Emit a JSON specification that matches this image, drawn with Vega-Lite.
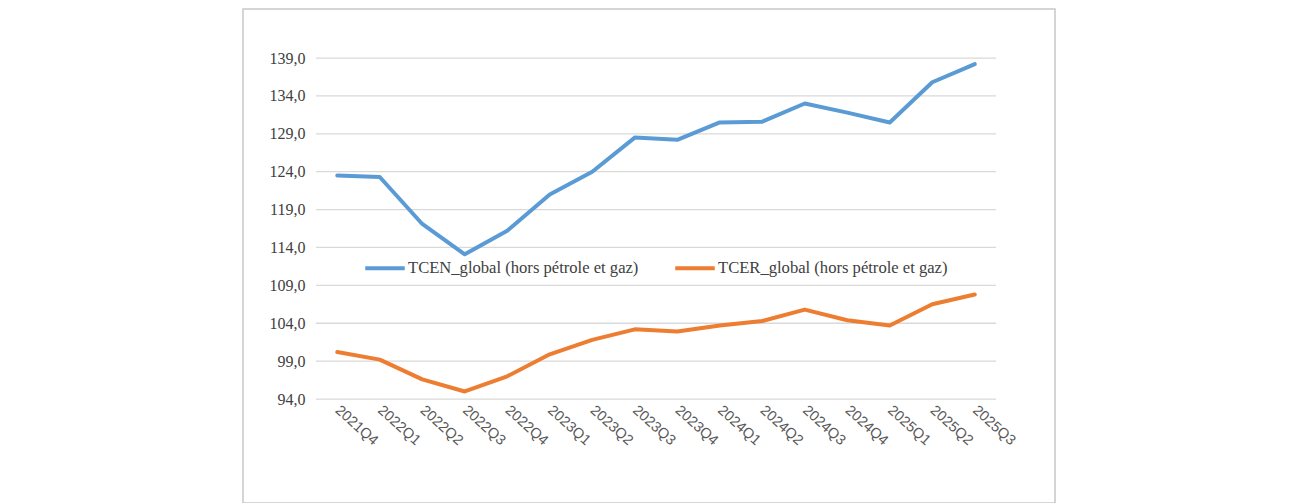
{
  "$schema": "https://vega.github.io/schema/vega-lite/v6.json",
  "autosize": {"type": "none"},
  "padding": {"left": 243, "top": 9, "right": 235, "bottom": 0},
  "width": 812,
  "height": 494,
  "background": "white",
  "config": {
    "view": {"stroke": "#c8c8c8", "strokeWidth": 1.5, "fill": "white"}
  },
  "datasets": {
    "series": [
      {"q": "2021Q4", "serie": "TCEN_global (hors pétrole et gaz)", "val": 123.5},
      {"q": "2022Q1", "serie": "TCEN_global (hors pétrole et gaz)", "val": 123.3},
      {"q": "2022Q2", "serie": "TCEN_global (hors pétrole et gaz)", "val": 117.1},
      {"q": "2022Q3", "serie": "TCEN_global (hors pétrole et gaz)", "val": 113.1},
      {"q": "2022Q4", "serie": "TCEN_global (hors pétrole et gaz)", "val": 116.2},
      {"q": "2023Q1", "serie": "TCEN_global (hors pétrole et gaz)", "val": 121.0},
      {"q": "2023Q2", "serie": "TCEN_global (hors pétrole et gaz)", "val": 124.0},
      {"q": "2023Q3", "serie": "TCEN_global (hors pétrole et gaz)", "val": 128.5},
      {"q": "2023Q4", "serie": "TCEN_global (hors pétrole et gaz)", "val": 128.2},
      {"q": "2024Q1", "serie": "TCEN_global (hors pétrole et gaz)", "val": 130.5},
      {"q": "2024Q2", "serie": "TCEN_global (hors pétrole et gaz)", "val": 130.6},
      {"q": "2024Q3", "serie": "TCEN_global (hors pétrole et gaz)", "val": 133.0},
      {"q": "2024Q4", "serie": "TCEN_global (hors pétrole et gaz)", "val": 131.8},
      {"q": "2025Q1", "serie": "TCEN_global (hors pétrole et gaz)", "val": 130.5},
      {"q": "2025Q2", "serie": "TCEN_global (hors pétrole et gaz)", "val": 135.8},
      {"q": "2025Q3", "serie": "TCEN_global (hors pétrole et gaz)", "val": 138.2},
      {"q": "2021Q4", "serie": "TCER_global (hors pétrole et gaz)", "val": 100.2},
      {"q": "2022Q1", "serie": "TCER_global (hors pétrole et gaz)", "val": 99.2},
      {"q": "2022Q2", "serie": "TCER_global (hors pétrole et gaz)", "val": 96.6},
      {"q": "2022Q3", "serie": "TCER_global (hors pétrole et gaz)", "val": 95.0},
      {"q": "2022Q4", "serie": "TCER_global (hors pétrole et gaz)", "val": 97.0},
      {"q": "2023Q1", "serie": "TCER_global (hors pétrole et gaz)", "val": 99.9},
      {"q": "2023Q2", "serie": "TCER_global (hors pétrole et gaz)", "val": 101.8},
      {"q": "2023Q3", "serie": "TCER_global (hors pétrole et gaz)", "val": 103.2},
      {"q": "2023Q4", "serie": "TCER_global (hors pétrole et gaz)", "val": 102.9},
      {"q": "2024Q1", "serie": "TCER_global (hors pétrole et gaz)", "val": 103.7},
      {"q": "2024Q2", "serie": "TCER_global (hors pétrole et gaz)", "val": 104.3},
      {"q": "2024Q3", "serie": "TCER_global (hors pétrole et gaz)", "val": 105.8},
      {"q": "2024Q4", "serie": "TCER_global (hors pétrole et gaz)", "val": 104.4},
      {"q": "2025Q1", "serie": "TCER_global (hors pétrole et gaz)", "val": 103.7},
      {"q": "2025Q2", "serie": "TCER_global (hors pétrole et gaz)", "val": 106.5},
      {"q": "2025Q3", "serie": "TCER_global (hors pétrole et gaz)", "val": 107.8}
    ],
    "grid": [
      {"v": 94}, {"v": 99}, {"v": 104}, {"v": 109}, {"v": 114},
      {"v": 119}, {"v": 124}, {"v": 129}, {"v": 134}, {"v": 139}
    ]
  },
  "layer": [
    {
      "data": {"name": "grid"},
      "mark": {"type": "rule", "color": "#d9d9d9", "strokeWidth": 1.3},
      "encoding": {
        "x": {"datum": "2021Q4", "type": "nominal", "bandPosition": 0.0001},
        "x2": {"datum": "2025Q3", "bandPosition": 1},
        "y": {"field": "v", "type": "quantitative"}
      }
    },
    {
      "data": {"name": "series"},
      "mark": {"type": "line", "strokeWidth": 4, "strokeCap": "round", "strokeJoin": "round"},
      "encoding": {
        "x": {
          "field": "q",
          "type": "nominal",
          "sort": null,
          "scale": {
            "type": "band",
            "domain": ["2021Q4", "2022Q1", "2022Q2", "2022Q3", "2022Q4", "2023Q1", "2023Q2", "2023Q3", "2023Q4", "2024Q1", "2024Q2", "2024Q3", "2024Q4", "2025Q1", "2025Q2", "2025Q3"],
            "range": [73, 753],
            "paddingInner": 0,
            "paddingOuter": 0
          },
          "axis": {
            "title": null,
            "orient": "bottom",
            "offset": -104,
            "domain": false,
            "ticks": false,
            "labelAngle": 42,
            "labelAlign": "left",
            "labelBaseline": "middle",
            "labelPadding": 9,
            "labelFont": "Liberation Sans",
            "labelFontSize": 14.5,
            "labelColor": "#595959",
            "grid": false
          }
        },
        "y": {
          "field": "val",
          "type": "quantitative",
          "scale": {"domain": [80.28, 145.47], "nice": false, "zero": false},
          "axis": {
            "title": null,
            "orient": "left",
            "offset": -73,
            "domain": false,
            "ticks": false,
            "grid": false,
            "values": [94, 99, 104, 109, 114, 119, 124, 129, 134, 139],
            "labelExpr": "replace(format(datum.value, '.1f'), '.', ',')",
            "labelPadding": 11,
            "labelFont": "Times New Roman, Liberation Serif, DejaVu Serif, serif",
            "labelFontSize": 16,
            "labelColor": "#404040"
          }
        },
        "color": {
          "field": "serie",
          "type": "nominal",
          "scale": {
            "domain": ["TCEN_global (hors pétrole et gaz)", "TCER_global (hors pétrole et gaz)"],
            "range": ["#5b9bd5", "#ed7d31"]
          },
          "legend": {
            "title": null,
            "orient": "none",
            "direction": "horizontal",
            "legendX": 120,
            "legendY": 237,
            "symbolType": "stroke",
            "symbolSize": 1560,
            "symbolStrokeWidth": 4,
            "labelOffset": 1,
            "columnPadding": 28,
            "labelFont": "Times New Roman, Liberation Serif, DejaVu Serif, serif",
            "labelFontSize": 16.6,
            "labelColor": "#404040",
            "labelLimit": 400
          }
        }
      }
    }
  ]
}
